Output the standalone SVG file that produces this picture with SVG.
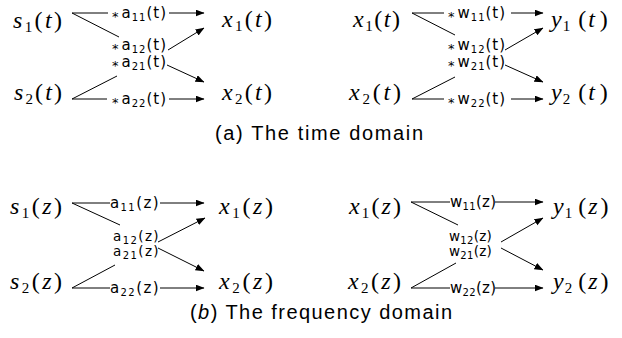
<svg xmlns="http://www.w3.org/2000/svg" width="622" height="338" viewBox="0 0 622 338">
<style>
.m{font-family:"Liberation Serif",serif;font-size:24px;fill:#000}
.i{font-style:italic}
.s{font-size:15px}
.l{font-family:"DejaVu Sans",sans-serif;font-size:15px;fill:#000;letter-spacing:1px}
.lz{letter-spacing:1.4px}
.wz{letter-spacing:0.3px}
.mid{font-size:13.5px}
.sb{font-size:10px}
.ast{font-size:13px}
.cap{font-family:"Liberation Sans",sans-serif;font-size:20px;fill:#000}
.c line{stroke:#000;stroke-width:1}
.c .a{marker-end:url(#ah)}
</style>
<defs>
<marker id="ah" markerUnits="userSpaceOnUse" markerWidth="9" markerHeight="8" refX="8.5" refY="3.5" orient="auto">
<path d="M0,0 L9,3.5 L0,7 z" fill="#000"/>
</marker>
</defs>
<rect width="622" height="338" fill="#fff"/>

<g id="connectors" class="c">
<!-- time left -->
<line x1="72" y1="13" x2="108" y2="13"/>
<line class="a" x1="169" y1="13" x2="204" y2="13"/>
<line x1="72" y1="13" x2="119" y2="37"/>
<line class="a" x1="168" y1="50" x2="204" y2="28"/>
<line class="a" x1="167" y1="65" x2="204" y2="82"/>
<line x1="72" y1="99" x2="117" y2="76"/>
<line x1="72" y1="99" x2="107" y2="99"/>
<line class="a" x1="169" y1="99" x2="204" y2="99"/>
<!-- time right -->
<line x1="412" y1="13" x2="444" y2="13"/>
<line class="a" x1="511" y1="13" x2="543" y2="13"/>
<line x1="412" y1="13" x2="455" y2="35"/>
<line class="a" x1="505" y1="50" x2="543" y2="28"/>
<line class="a" x1="505" y1="65" x2="543" y2="82"/>
<line x1="412" y1="99" x2="455" y2="77"/>
<line x1="412" y1="99" x2="444" y2="99"/>
<line class="a" x1="511" y1="99" x2="543" y2="99"/>
<!-- z left -->
<line x1="72" y1="203" x2="110" y2="203"/>
<line class="a" x1="160" y1="203" x2="204" y2="203"/>
<line x1="72" y1="203" x2="120" y2="225"/>
<line class="a" x1="158" y1="242" x2="205" y2="218"/>
<line class="a" x1="158" y1="248" x2="204" y2="271"/>
<line x1="72" y1="288" x2="115" y2="265"/>
<line x1="72" y1="288" x2="110" y2="288"/>
<line class="a" x1="160" y1="288" x2="204" y2="288"/>
<!-- z right -->
<line x1="411" y1="202" x2="450" y2="202"/>
<line class="a" x1="495" y1="202" x2="543" y2="202"/>
<line x1="411" y1="202" x2="458" y2="225"/>
<line class="a" x1="501" y1="242" x2="543" y2="218"/>
<line class="a" x1="501" y1="248" x2="543" y2="270"/>
<line x1="411" y1="288" x2="456" y2="263"/>
<line x1="411" y1="288" x2="450" y2="288"/>
<line class="a" x1="495" y1="288" x2="543" y2="288"/>
</g>

<!-- time domain nodes -->
<g id="s1t"><text class="m" x="13" y="28" textLength="49" lengthAdjust="spacing"><tspan class="i">s</tspan><tspan class="s" dy="4">1</tspan><tspan dy="-4">(</tspan><tspan class="i">t</tspan>)</text></g>
<g id="s2t"><text class="m" x="14" y="100" textLength="48" lengthAdjust="spacing"><tspan class="i">s</tspan><tspan class="s" dy="4">2</tspan><tspan dy="-4">(</tspan><tspan class="i">t</tspan>)</text></g>
<g id="x1t"><text class="m" x="222" y="27" textLength="50" lengthAdjust="spacing"><tspan class="i">x</tspan><tspan class="s" dy="4">1</tspan><tspan dy="-4">(</tspan><tspan class="i">t</tspan>)</text></g>
<g id="x2t"><text class="m" x="222" y="100" textLength="50" lengthAdjust="spacing"><tspan class="i">x</tspan><tspan class="s" dy="4">2</tspan><tspan dy="-4">(</tspan><tspan class="i">t</tspan>)</text></g>
<g id="rx1t"><text class="m" x="353" y="27" textLength="47" lengthAdjust="spacing"><tspan class="i">x</tspan><tspan class="s" dy="4">1</tspan><tspan dy="-4">(</tspan><tspan class="i">t</tspan>)</text></g>
<g id="rx2t"><text class="m" x="349" y="100" textLength="52" lengthAdjust="spacing"><tspan class="i">x</tspan><tspan class="s" dy="4">2</tspan><tspan dy="-4">(</tspan><tspan class="i">t</tspan>)</text></g>
<g id="y1t"><text class="m" x="551" y="27"><tspan class="i">y</tspan><tspan class="s" dx="1" dy="4">1</tspan><tspan dx="8" dy="-4">(</tspan><tspan class="i" dx="2">t</tspan><tspan dx="5">)</tspan></text></g>
<g id="y2t"><text class="m" x="551" y="100"><tspan class="i">y</tspan><tspan class="s" dx="1" dy="4">2</tspan><tspan dx="8" dy="-4">(</tspan><tspan class="i" dx="2">t</tspan><tspan dx="5">)</tspan></text></g>

<!-- time domain labels -->
<g id="la11t"><text class="l" x="112" y="18"><tspan class="ast" dy="3">*</tspan><tspan dx="2" dy="-3">a</tspan><tspan class="sb" dy="3">11</tspan><tspan dy="-3">(t)</tspan></text></g>
<g id="la12t"><text class="l" x="112" y="50"><tspan class="ast" dy="3">*</tspan><tspan dx="2" dy="-3">a</tspan><tspan class="sb" dy="3">12</tspan><tspan dy="-3">(t)</tspan></text></g>
<g id="la21t"><text class="l" x="112" y="67"><tspan class="ast" dy="3">*</tspan><tspan dx="2" dy="-3">a</tspan><tspan class="sb" dy="3">21</tspan><tspan dy="-3">(t)</tspan></text></g>
<g id="la22t"><text class="l" x="112" y="104"><tspan class="ast" dy="3">*</tspan><tspan dx="2" dy="-3">a</tspan><tspan class="sb" dy="3">22</tspan><tspan dy="-3">(t)</tspan></text></g>
<g id="lw11t"><text class="l" x="448" y="18"><tspan class="ast" dy="3">*</tspan><tspan dx="2" dy="-3">w</tspan><tspan class="sb" dy="3">11</tspan><tspan dy="-3">(t)</tspan></text></g>
<g id="lw12t"><text class="l" x="448" y="50"><tspan class="ast" dy="3">*</tspan><tspan dx="2" dy="-3">w</tspan><tspan class="sb" dy="3">12</tspan><tspan dy="-3">(t)</tspan></text></g>
<g id="lw21t"><text class="l" x="448" y="67"><tspan class="ast" dy="3">*</tspan><tspan dx="2" dy="-3">w</tspan><tspan class="sb" dy="3">21</tspan><tspan dy="-3">(t)</tspan></text></g>
<g id="lw22t"><text class="l" x="448" y="104"><tspan class="ast" dy="3">*</tspan><tspan dx="2" dy="-3">w</tspan><tspan class="sb" dy="3">22</tspan><tspan dy="-3">(t)</tspan></text></g>

<g id="capa"><text class="cap" x="215" y="140" textLength="208" lengthAdjust="spacing">(a) The time domain</text></g>

<!-- z domain nodes -->
<g id="s1z"><text class="m" x="10" y="214" textLength="52" lengthAdjust="spacing"><tspan class="i">s</tspan><tspan class="s" dy="4">1</tspan><tspan dy="-4">(</tspan><tspan class="i">z</tspan>)</text></g>
<g id="s2z"><text class="m" x="10" y="289" textLength="52" lengthAdjust="spacing"><tspan class="i">s</tspan><tspan class="s" dy="4">2</tspan><tspan dy="-4">(</tspan><tspan class="i">z</tspan>)</text></g>
<g id="x1z"><text class="m" x="219" y="214" textLength="54" lengthAdjust="spacing"><tspan class="i">x</tspan><tspan class="s" dy="4">1</tspan><tspan dy="-4">(</tspan><tspan class="i">z</tspan>)</text></g>
<g id="x2z"><text class="m" x="219" y="289" textLength="54" lengthAdjust="spacing"><tspan class="i">x</tspan><tspan class="s" dy="4">2</tspan><tspan dy="-4">(</tspan><tspan class="i">z</tspan>)</text></g>
<g id="rx1z"><text class="m" x="349" y="214" textLength="52" lengthAdjust="spacing"><tspan class="i">x</tspan><tspan class="s" dy="4">1</tspan><tspan dy="-4">(</tspan><tspan class="i">z</tspan>)</text></g>
<g id="rx2z"><text class="m" x="348" y="289" textLength="53" lengthAdjust="spacing"><tspan class="i">x</tspan><tspan class="s" dy="4">2</tspan><tspan dy="-4">(</tspan><tspan class="i">z</tspan>)</text></g>
<g id="y1z"><text class="m" x="553" y="214"><tspan class="i">y</tspan><tspan class="s" dx="1" dy="4">1</tspan><tspan dx="6" dy="-4">(</tspan><tspan class="i" dx="2">z</tspan><tspan dx="3">)</tspan></text></g>
<g id="y2z"><text class="m" x="553" y="289"><tspan class="i">y</tspan><tspan class="s" dx="1" dy="4">2</tspan><tspan dx="6" dy="-4">(</tspan><tspan class="i" dx="2">z</tspan><tspan dx="3">)</tspan></text></g>

<!-- z domain labels -->
<g id="la11z"><text class="l lz" x="110" y="208">a<tspan class="sb" dy="3">11</tspan><tspan dy="-3">(z)</tspan></text></g>
<g id="la12z"><text class="l lz mid" x="113" y="241">a<tspan class="sb" dy="3">12</tspan><tspan dy="-3">(z)</tspan></text></g>
<g id="la21z"><text class="l lz mid" x="113" y="256">a<tspan class="sb" dy="3">21</tspan><tspan dy="-3">(z)</tspan></text></g>
<g id="la22z"><text class="l lz" x="110" y="293">a<tspan class="sb" dy="3">22</tspan><tspan dy="-3">(z)</tspan></text></g>
<g id="lw11z"><text class="l wz" x="450" y="207">w<tspan class="sb" dy="3">11</tspan><tspan dy="-3">(z)</tspan></text></g>
<g id="lw12z"><text class="l wz mid" x="449" y="241">w<tspan class="sb" dy="3">12</tspan><tspan dy="-3">(z)</tspan></text></g>
<g id="lw21z"><text class="l wz mid" x="449" y="256">w<tspan class="sb" dy="3">21</tspan><tspan dy="-3">(z)</tspan></text></g>
<g id="lw22z"><text class="l wz" x="450" y="293">w<tspan class="sb" dy="3">22</tspan><tspan dy="-3">(z)</tspan></text></g>

<g id="capb"><text class="cap" x="190" y="319" textLength="262" lengthAdjust="spacing">(<tspan class="i">b</tspan>) The frequency domain</text></g>
</svg>
